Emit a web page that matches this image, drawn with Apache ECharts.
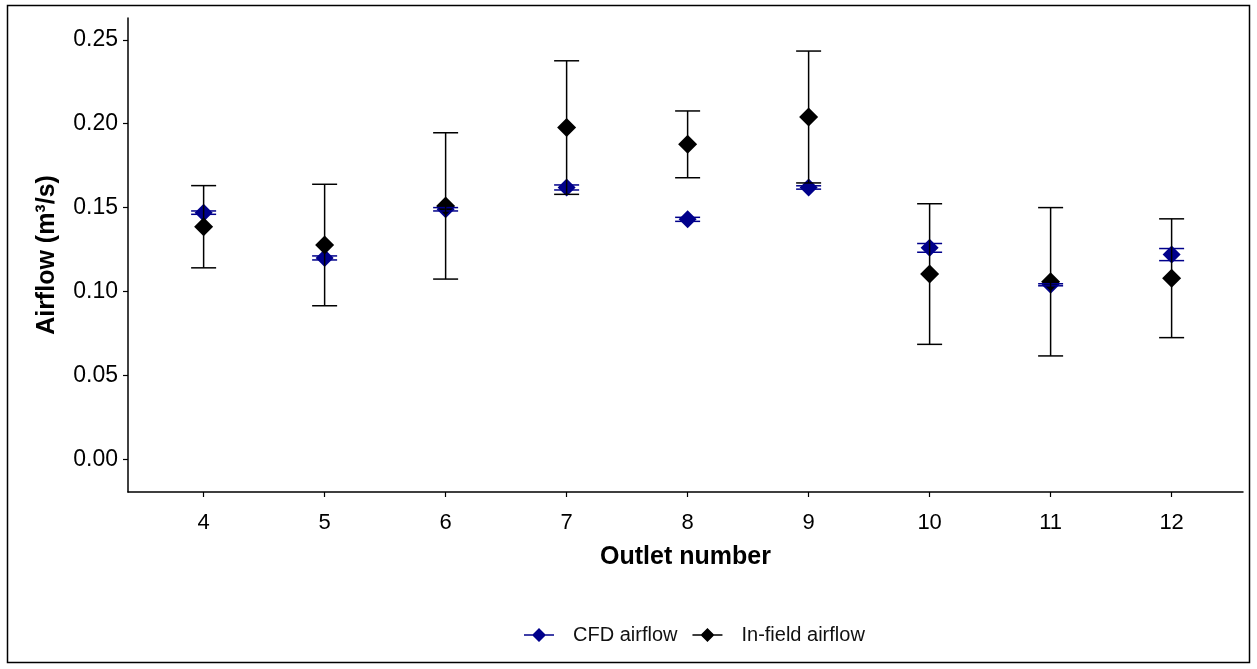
<!DOCTYPE html>
<html>
<head>
<meta charset="utf-8">
<script src="https://cdn.jsdelivr.net/npm/echarts@6/dist/echarts.min.js"></script>
<style>
  html, body { margin: 0; padding: 0; background: #fff; }
  #chart { width: 1257px; height: 669px; }
</style>
</head>
<body>
<div id="chart"></div>
<script>
// Outlet numbers along the x axis
const outlets = [4, 5, 6, 7, 8, 9, 10, 11, 12];
// CFD simulated airflow (m3/s) and its spread
const cfdMean = [0.147, 0.120, 0.149, 0.162, 0.143, 0.162, 0.126, 0.104, 0.122];
const cfdSd   = [0.0010, 0.0012, 0.0010, 0.0015, 0.0012, 0.0010, 0.0026, 0.0006, 0.0036];
// In-field measured airflow (m3/s) and its spread
const fieldMean = [0.1386, 0.1277, 0.1510, 0.1977, 0.1877, 0.2040, 0.1104, 0.1058, 0.1079];
const fieldSd   = [0.0245, 0.0362, 0.0436, 0.0398, 0.0199, 0.0393, 0.0419, 0.0442, 0.0354];
// Tick labels
const yTicks = [0, 0.05, 0.10, 0.15, 0.20, 0.25];
const xTicks = outlets;

const CFD_COLOR = '#00008B';
const FIELD_COLOR = '#000000';
const FONT = '"Liberation Sans", Arial, sans-serif';

const chart = echarts.init(document.getElementById('chart'), null, { renderer: 'canvas' });

function errorBarRenderer(color) {
  return function (params, api) {
    const x = api.value(0);
    const m = api.value(1);
    const e = api.value(2);
    const top = api.coord([x, m + e]);
    const bot = api.coord([x, m - e]);
    const hw = 12.5;
    const style = { stroke: color, lineWidth: 1.5 };
    return {
      type: 'group',
      children: [
        { type: 'line', shape: { x1: top[0], y1: top[1], x2: bot[0], y2: bot[1] }, style },
        { type: 'line', shape: { x1: top[0] - hw, y1: top[1], x2: top[0] + hw, y2: top[1] }, style },
        { type: 'line', shape: { x1: bot[0] - hw, y1: bot[1], x2: bot[0] + hw, y2: bot[1] }, style }
      ]
    };
  };
}

// legend glyph: short line with a diamond in the middle
const legendIcon = 'path://M0,6.3H30V7.7H0Z M15,0L22,7L15,14L8,7Z';

const option = {
  animation: false,
  backgroundColor: '#fff',
  textStyle: { fontFamily: FONT },
  graphic: [{
    type: 'rect',
    shape: { x: 7.5, y: 5.5, width: 1242, height: 657 },
    style: { fill: 'none', stroke: '#000', lineWidth: 1.5 },
    silent: true, z: 100
  }],
  grid: { left: 128, right: 14, top: 18, bottom: 177 },
  legend: {
    data: ['CFD airflow', 'In-field airflow'],
    left: 519,
    top: 620,
    icon: legendIcon,
    itemWidth: 30,
    itemHeight: 14,
    itemGap: 15,
    textStyle: { fontSize: 20, color: '#111', fontFamily: FONT, padding: [0, 0, 0, 14] }
  },
  xAxis: {
    type: 'value',
    min: 3.375,
    max: 12.59,
    name: 'Outlet number',
    nameLocation: 'middle',
    nameGap: 53,
    nameTextStyle: { fontSize: 25, fontWeight: 'bold', color: '#000', fontFamily: FONT },
    axisLine: { show: true, onZero: false, lineStyle: { color: '#000', width: 1.5 } },
    axisTick: { show: true, length: 5, customValues: xTicks, lineStyle: { color: '#000', width: 1.2 } },
    axisLabel: { customValues: xTicks, fontSize: 22, color: '#000', margin: 20, fontFamily: FONT },
    splitLine: { show: false }
  },
  yAxis: {
    type: 'value',
    min: -0.0195,
    max: 0.263,
    name: 'Airflow (m³/s)',
    nameLocation: 'middle',
    nameGap: 68,
    nameRotate: 90,
    nameTextStyle: { fontSize: 25, fontWeight: 'bold', color: '#000', fontFamily: FONT },
    axisLine: { show: true, onZero: false, lineStyle: { color: '#000', width: 1.5 } },
    axisTick: { show: true, length: 5, customValues: yTicks, lineStyle: { color: '#000', width: 1.2 } },
    axisLabel: {
      customValues: yTicks, fontSize: 23, color: '#000', margin: 10, fontFamily: FONT,
      formatter: v => v.toFixed(2)
    },
    splitLine: { show: false }
  },
  series: [
    {
      name: 'CFD airflow',
      type: 'scatter',
      symbol: 'diamond',
      symbolSize: [18, 18],
      itemStyle: { color: CFD_COLOR, opacity: 1 },
      z: 2,
      data: outlets.map((o, i) => [o, cfdMean[i]])
    },
    {
      name: 'In-field airflow',
      type: 'scatter',
      symbol: 'diamond',
      symbolSize: [19, 19],
      itemStyle: { color: FIELD_COLOR, opacity: 1 },
      z: 3,
      data: outlets.map((o, i) => [o, fieldMean[i]])
    },
    {
      name: 'CFD airflow',
      type: 'custom',
      renderItem: errorBarRenderer(CFD_COLOR),
      encode: { x: 0, y: 1 },
      itemStyle: { color: CFD_COLOR },
      z: 4,
      data: outlets.map((o, i) => [o, cfdMean[i], cfdSd[i]])
    },
    {
      name: 'In-field airflow',
      type: 'custom',
      renderItem: errorBarRenderer(FIELD_COLOR),
      encode: { x: 0, y: 1 },
      itemStyle: { color: FIELD_COLOR },
      z: 5,
      data: outlets.map((o, i) => [o, fieldMean[i], fieldSd[i]])
    }
  ]
};

chart.setOption(option);
</script>
</body>
</html>
